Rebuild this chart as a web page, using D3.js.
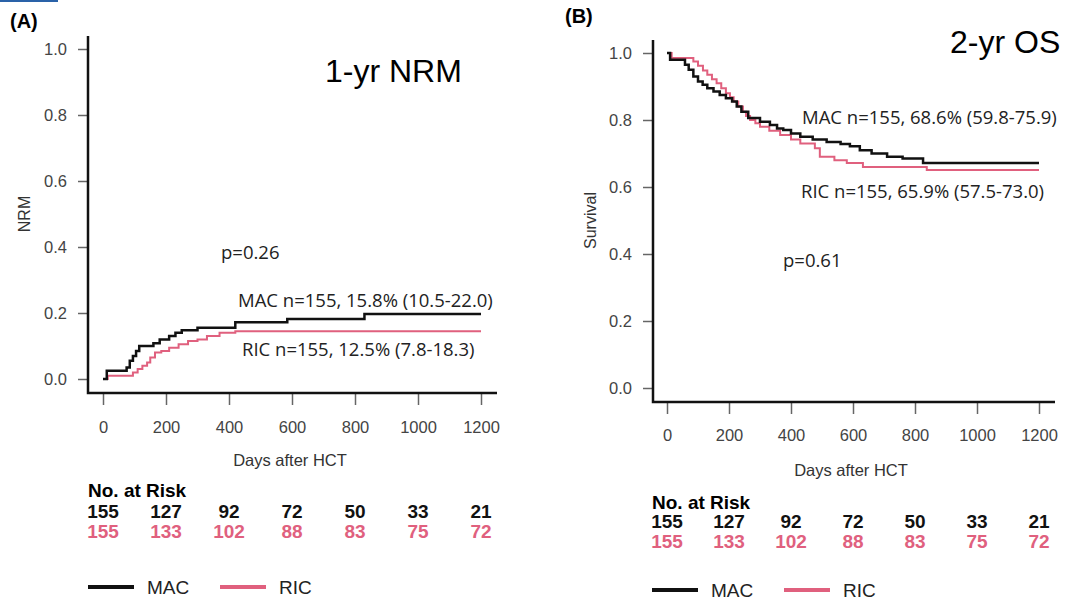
<!DOCTYPE html>
<html>
<head>
<meta charset="utf-8">
<script src="https://cdnjs.cloudflare.com/ajax/libs/d3/7.8.5/d3.min.js"></script>
<style>
	body { margin: 0; background: #fff; }
	svg { display: block; font-family: "Liberation Sans", Arial, sans-serif; }
	.tick text { fill: #444; font-size: 16.5px; }
	.tick line { stroke: #666; stroke-width: 1.5; }
	.note { font-family: "Open Sans", sans-serif; font-size: 18.5px; fill: #222; }
</style>
</head>
<body>
<div id="chart"></div>
<script>
var W = 1065,
	H = 600;

var pink = "#e0607e";

/* DATA */

var xTicks = [0, 200, 400, 600, 800, 1000, 1200],
	yTicks = [0, 0.2, 0.4, 0.6, 0.8, 1.0];

// 1-yr NRM (cumulative incidence)
var nrmMacDays = [0, 12, 75, 85, 95, 105, 115, 160, 180, 210, 230, 250, 300, 420, 585, 830, 1200],
	nrmMacVals = [0, 0.025, 0.035, 0.055, 0.07, 0.085, 0.1, 0.108, 0.12, 0.13, 0.14, 0.148, 0.155, 0.172, 0.182, 0.197, 0.197];

var nrmRicDays = [0, 15, 95, 110, 125, 140, 150, 165, 185, 210, 240, 270, 300, 330, 370, 420, 1200],
	nrmRicVals = [0, 0.01, 0.02, 0.03, 0.04, 0.05, 0.065, 0.08, 0.085, 0.095, 0.105, 0.115, 0.12, 0.13, 0.14, 0.145, 0.145];

// 2-yr OS (survival)
var osMacDays = [0, 10, 58, 70, 85, 100, 115, 130, 150, 170, 190, 210, 225, 240, 262, 300, 332, 355, 375, 400, 430, 470, 515, 560, 590, 622, 660, 710, 760, 826, 1200],
	osMacVals = [1, 0.98, 0.965, 0.95, 0.93, 0.915, 0.905, 0.895, 0.885, 0.875, 0.865, 0.855, 0.84, 0.825, 0.806, 0.795, 0.785, 0.775, 0.77, 0.76, 0.75, 0.742, 0.734, 0.728, 0.722, 0.71, 0.70, 0.69, 0.685, 0.672, 0.672];

var osRicDays = [0, 15, 85, 100, 116, 130, 145, 160, 175, 190, 203, 215, 230, 245, 255, 268, 285, 300, 330, 365, 400, 430, 477, 493, 540, 580, 632, 838, 1200],
	osRicVals = [1, 0.985, 0.975, 0.962, 0.948, 0.935, 0.922, 0.91, 0.895, 0.88, 0.868, 0.855, 0.84, 0.825, 0.812, 0.8, 0.79, 0.78, 0.768, 0.755, 0.742, 0.73, 0.716, 0.69, 0.68, 0.672, 0.66, 0.651, 0.651];

// number at risk
var riskDays = [0, 200, 400, 600, 800, 1000, 1200],
	riskMac = [155, 127, 92, 72, 50, 33, 21],
	riskRic = [155, 133, 102, 88, 83, 75, 72];

/* PANELS */

var panels = [
	{
		tag: "(A)", tagX: 10, tagY: 28,
		title: "1-yr NRM", titleX: 325, titleY: 82,
		ylab: "NRM", ylabX: 30,
		x0: 103, x1: 481, y0: 379, y1: 49,
		axX: 88, axTop: 36, axY: 393, axRight: 497,
		mac: [nrmMacDays, nrmMacVals], ric: [nrmRicDays, nrmRicVals],
		p: "p=0.26", pX: 221, pY: 259,
		macLab: "MAC n=155, 15.8% (10.5-22.0)", macX: 238, macY: 307,
		ricLab: "RIC n=155, 12.5% (7.8-18.3)", ricX: 242, ricY: 356,
		dayY: 466, tickPad: 16,
		riskX: 88, riskY: 497, riskOff: 0, legY: 587
	},
	{
		tag: "(B)", tagX: 565, tagY: 23,
		title: "2-yr OS", titleX: 950, titleY: 53,
		ylab: "Survival", ylabX: 596,
		x0: 667, x1: 1039, y0: 388, y1: 53,
		axX: 653, axTop: 40, axY: 402, axRight: 1055,
		mac: [osMacDays, osMacVals], ric: [osRicDays, osRicVals],
		p: "p=0.61", pX: 783, pY: 267,
		macLab: "MAC n=155, 68.6% (59.8-75.9)", macX: 802, macY: 124,
		ricLab: "RIC n=155, 65.9% (57.5-73.0)", ricX: 801, ricY: 198,
		dayY: 476, tickPad: 15,
		riskX: 652, riskY: 509, riskOff: -2, legY: 590
	}
];

var svg = d3.select("#chart").append("svg")
	.attr("width", W)
	.attr("height", H);

// little blue mark in the corner of the source figure
svg.append("rect")
	.attr("x", 0).attr("y", 0)
	.attr("width", 58).attr("height", 2)
	.attr("fill", "#2a62a8");

panels.forEach(function(p) {

	var x = d3.scaleLinear().domain([0, 1200]).range([p.x0, p.x1]),
		y = d3.scaleLinear().domain([0, 1]).range([p.y0, p.y1]);

	var g = svg.append("g");

	/* Axis */

	g.append("g")
		.attr("transform", "translate(0," + p.axY + ")")
		.call(d3.axisBottom(x).tickValues(xTicks).tickSize(12).tickPadding(p.tickPad).tickFormat(d3.format("d")))
		.call(function(a) { a.select(".domain").remove(); })
		.selectAll("text").attr("font-family", null);

	g.append("g")
		.attr("transform", "translate(" + p.axX + ",0)")
		.call(d3.axisLeft(y).tickValues(yTicks).tickSize(10).tickPadding(11).tickFormat(d3.format(".1f")))
		.call(function(a) { a.select(".domain").remove(); })
		.selectAll("text").attr("font-family", null);

	g.append("path")
		.attr("d", "M" + p.axX + "," + p.axTop + "V" + p.axY + "H" + p.axRight)
		.attr("fill", "none")
		.attr("stroke", "#111")
		.attr("stroke-width", 2.5);

	g.append("text")
		.attr("x", (p.x0 + p.x1) / 2 - 2)
		.attr("y", p.dayY)
		.attr("text-anchor", "middle")
		.attr("font-size", 16.5)
		.attr("fill", "#333")
		.text("Days after HCT");

	g.append("text")
		.attr("transform", "translate(" + p.ylabX + "," + ((p.y0 + p.y1) / 2) + ") rotate(-90)")
		.attr("text-anchor", "middle")
		.attr("font-size", 16)
		.attr("fill", "#333")
		.text(p.ylab);

	/* Curves */

	var line = d3.line()
		.x(function(d) { return x(d[0]); })
		.y(function(d) { return y(d[1]); })
		.curve(d3.curveStepAfter);

	[[p.ric, pink, 2], [p.mac, "#111", 2.5]].forEach(function(s) {
		var pts = d3.zip(s[0][0], s[0][1]);
		g.append("path")
			.datum(pts)
			.attr("d", line)
			.attr("fill", "none")
			.attr("stroke", s[1])
			.attr("stroke-width", s[2]);
	});

	/* Text */

	g.append("text")
		.attr("x", p.tagX).attr("y", p.tagY)
		.attr("font-size", 20).attr("font-weight", "bold")
		.text(p.tag);

	g.append("text")
		.attr("x", p.titleX).attr("y", p.titleY)
		.attr("font-size", 32)
		.text(p.title);

	g.append("text").attr("class", "note").attr("x", p.pX).attr("y", p.pY).text(p.p);
	g.append("text").attr("class", "note").attr("x", p.macX).attr("y", p.macY).text(p.macLab);
	g.append("text").attr("class", "note").attr("x", p.ricX).attr("y", p.ricY).text(p.ricLab);

	/* Number at risk */

	g.append("text")
		.attr("x", p.riskX).attr("y", p.riskY)
		.attr("font-size", 19).attr("font-weight", "bold")
		.text("No. at Risk");

	[[riskMac, "#111", 21], [riskRic, pink, 41]].forEach(function(r) {
		g.selectAll(null)
			.data(riskDays)
			.enter().append("text")
			.attr("x", function(d) { return x(d); })
			.attr("y", p.riskY + r[2] + p.riskOff)
			.attr("text-anchor", "middle")
			.attr("font-size", 19).attr("font-weight", "bold")
			.attr("fill", r[1])
			.text(function(d, i) { return r[0][i]; });
	});

	/* Legend */

	[["MAC", "#111", 0], ["RIC", pink, 132]].forEach(function(l) {
		g.append("line")
			.attr("x1", p.riskX + l[2]).attr("x2", p.riskX + l[2] + 46)
			.attr("y1", p.legY).attr("y2", p.legY)
			.attr("stroke", l[1])
			.attr("stroke-width", 4);
		g.append("text")
			.attr("x", p.riskX + l[2] + 59).attr("y", p.legY + 7)
			.attr("font-size", 19)
			.attr("fill", "#222")
			.text(l[0]);
	});
});
</script>
</body>
</html>
